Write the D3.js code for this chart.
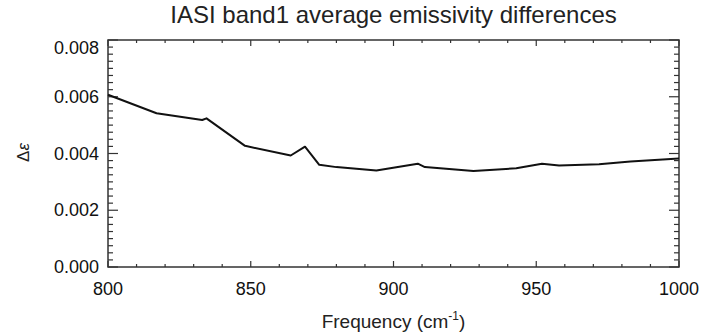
<!DOCTYPE html>
<html>
<head>
<meta charset="utf-8">
<script src="https://cdn.jsdelivr.net/npm/d3@7"></script>
<style>
  body { margin: 0; background: #fff; }
</style>
</head>
<body>
<svg id="chart" width="708" height="334" font-family="Liberation Sans, Arial, Helvetica, sans-serif"></svg>
<script>
// frequency (cm-1) and average emissivity difference
const freq = [800, 817, 833, 834.5, 848, 864, 869, 874, 880, 894, 908.5, 911, 928, 943, 952, 958, 972, 983, 1000];
const deltaEps = [0.00607, 0.00542, 0.00518, 0.00524, 0.00427, 0.00393, 0.00424, 0.00360, 0.00352, 0.00340, 0.00364, 0.00352, 0.00338, 0.00348, 0.00364, 0.00358, 0.00362, 0.00372, 0.00382];
const xTicks = [800, 850, 900, 950, 1000];
const yTicks = [0, 0.002, 0.004, 0.006, 0.008];

const svg = d3.select("#chart");
const margin = { top: 40, right: 29, bottom: 67, left: 108 };
const width = +svg.attr("width"), height = +svg.attr("height");
const innerWidth = width - margin.left - margin.right;
const innerHeight = height - margin.top - margin.bottom;

// scales in page coordinates so labels sit directly in the svg
const xScale = d3.scaleLinear().domain([800, 1000]).range([margin.left, width - margin.right]);
const yScale = d3.scaleLinear().domain([0, 0.008]).range([height - margin.bottom, margin.top]);

const axisColor = "#333";
const xMinor = d3.range(800, 1001, 10).filter(d => !xTicks.includes(d));
const yMinor = d3.range(0, 33).map(i => i * 0.00025).filter((d, i) => i % 8 !== 0);

const x0 = margin.left, x1 = width - margin.right;
const y0 = height - margin.bottom, y1 = margin.top;

// inward ticks on all four sides, like the original IDL plot
function ticks(sel, values, len, horiz) {
  values.forEach(v => {
    if (horiz) {
      const x = xScale(v);
      sel.append("line").attr("x1", x).attr("x2", x).attr("y1", y0).attr("y2", y0 - len);
      sel.append("line").attr("x1", x).attr("x2", x).attr("y1", y1).attr("y2", y1 + len);
    } else {
      const y = yScale(v);
      sel.append("line").attr("x1", x0).attr("x2", x0 + len).attr("y1", y).attr("y2", y);
      sel.append("line").attr("x1", x1).attr("x2", x1 - len).attr("y1", y).attr("y2", y);
    }
  });
}
const tickG = svg.append("g").attr("stroke", axisColor).attr("stroke-width", 1.2);
ticks(tickG, xTicks, 6, true);
ticks(tickG, xMinor, 3, true);
ticks(tickG, yTicks, 10, false);
ticks(tickG, yMinor, 5, false);

svg.append("rect")
  .attr("x", x0)
  .attr("y", y1)
  .attr("width", innerWidth)
  .attr("height", innerHeight)
  .attr("fill", "none")
  .attr("stroke", axisColor)
  .attr("stroke-width", 1.5);

// tick labels
svg.selectAll(".xlab").data(xTicks).join("text")
  .attr("class", "xlab")
  .attr("x", d => xScale(d))
  .attr("y", y0 + 28)
  .attr("text-anchor", "middle")
  .attr("font-size", 18)
  .attr("fill", "#111")
  .text(d => d);

svg.selectAll(".ylab").data(yTicks).join("text")
  .attr("class", "ylab")
  .attr("x", x0 - 9)
  .attr("y", d => yScale(d) + (d === 0.008 ? 8 : 0) + 6)
  .attr("text-anchor", "end")
  .attr("font-size", 18)
  .attr("fill", "#111")
  .text(d => d.toFixed(3));

// data line
const data = freq.map((f, i) => ({ f: f, v: deltaEps[i] }));
const line = d3.line().x(d => xScale(d.f)).y(d => yScale(d.v));
svg.append("path")
  .datum(data)
  .attr("fill", "none")
  .attr("stroke", "#111")
  .attr("stroke-width", 2)
  .attr("stroke-linejoin", "round")
  .attr("d", line);

// title and axis labels
svg.append("text")
  .attr("x", (x0 + x1) / 2)
  .attr("y", 23)
  .attr("text-anchor", "middle")
  .attr("font-size", 24)
  .attr("fill", "#222")
  .text("IASI band1 average emissivity differences");

const xl = svg.append("text")
  .attr("x", (x0 + x1) / 2)
  .attr("y", 328)
  .attr("text-anchor", "middle")
  .attr("font-size", 19)
  .attr("fill", "#222");
xl.append("tspan").text("Frequency (cm");
xl.append("tspan").attr("dy", -8).attr("font-size", 12).text("-1");
xl.append("tspan").attr("dy", 8).text(")");

const yl = svg.append("text")
  .attr("transform", `translate(29,${(y0 + y1) / 2 - 1}) rotate(-90)`)
  .attr("text-anchor", "middle")
  .attr("font-size", 17)
  .attr("fill", "#222");
yl.append("tspan").text("Δ");
yl.append("tspan").attr("font-style", "italic").text("ε");
</script>
</body>
</html>
